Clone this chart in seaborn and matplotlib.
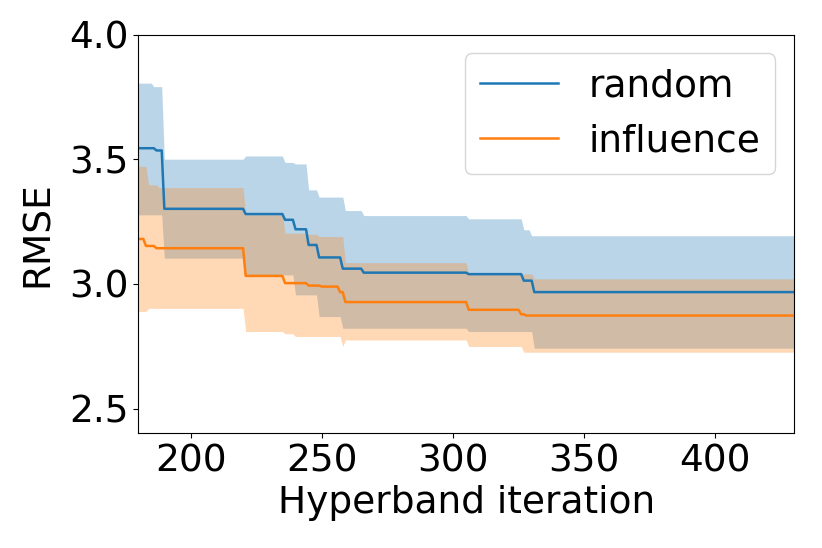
import numpy as np
import pandas as pd
import matplotlib
matplotlib.use("Agg")
import matplotlib.pyplot as plt
import seaborn as sns

# change points (iteration where value changes)
rand_mean_x = [180, 187, 190, 221, 236, 240, 245, 249, 258, 266, 306, 327, 331]
rand_mean_y = [3.544, 3.535, 3.301, 3.280, 3.257, 3.219, 3.156, 3.106, 3.061, 3.045, 3.039, 3.013, 2.967]
rand_hi_x = [180, 186, 190, 221, 236, 240, 245, 249, 259, 266, 306, 327, 330]
rand_hi_y = [3.805, 3.791, 3.500, 3.513, 3.487, 3.481, 3.377, 3.348, 3.294, 3.274, 3.261, 3.217, 3.193]
rand_lo_x = [180, 190, 221, 240, 249, 258, 306, 331]
rand_lo_y = [3.277, 3.103, 3.036, 2.956, 2.869, 2.822, 2.809, 2.742]

infl_mean_x = [180, 183, 187, 221, 236, 245, 250, 257, 259, 306, 326, 328]
infl_mean_y = [3.180, 3.152, 3.143, 3.032, 3.003, 2.993, 2.989, 2.967, 2.927, 2.896, 2.878, 2.873]
infl_hi_x = [180, 184, 188, 221, 236, 244, 249, 259, 306, 331]
infl_hi_y = [3.471, 3.397, 3.386, 3.277, 3.203, 3.199, 3.190, 3.085, 3.040, 3.020]
infl_lo_x = [180, 184, 221, 236, 240, 258, 259, 306, 327]
infl_lo_y = [2.889, 2.902, 2.809, 2.800, 2.789, 2.749, 2.775, 2.749, 2.726]

iters = np.arange(180, 431)

def expand(xs, ys):
    s = pd.Series(ys, index=xs)
    return s.reindex(iters).ffill().values

df = pd.DataFrame({"iteration": np.concatenate([iters, iters]),
                   "RMSE": np.concatenate([expand(rand_mean_x, rand_mean_y),
                                           expand(infl_mean_x, infl_mean_y)]),
                   "method": ["random"] * len(iters) + ["influence"] * len(iters)})

fs = 27
fig = plt.figure(figsize=(8.22, 5.48), dpi=100)
ax = fig.add_axes([0.168, 0.209, 0.798, 0.728])

pal = {"random": "#1f77b4", "influence": "#ff7f0e"}
sns.lineplot(data=df, x="iteration", y="RMSE", hue="method", palette=pal, lw=1.8, ax=ax)
ax.fill_between(iters, expand(rand_lo_x, rand_lo_y), expand(rand_hi_x, rand_hi_y),
                color=pal["random"], alpha=0.3, lw=0)
ax.fill_between(iters, expand(infl_lo_x, infl_lo_y), expand(infl_hi_x, infl_hi_y),
                color=pal["influence"], alpha=0.3, lw=0)

ax.set_xlim(180, 430)
ax.set_ylim(2.4, 4.0)
ax.set_xticks([200, 250, 300, 350, 400])
ax.set_yticks([2.5, 3.0, 3.5, 4.0])
ax.set_xlabel("Hyperband iteration", fontsize=fs)
ax.set_ylabel("RMSE", fontsize=fs, labelpad=9)
ax.tick_params(labelsize=fs)
ax.legend(loc="upper right", fontsize=fs, handlelength=2.1)

fig.savefig("out.png", dpi=100)
